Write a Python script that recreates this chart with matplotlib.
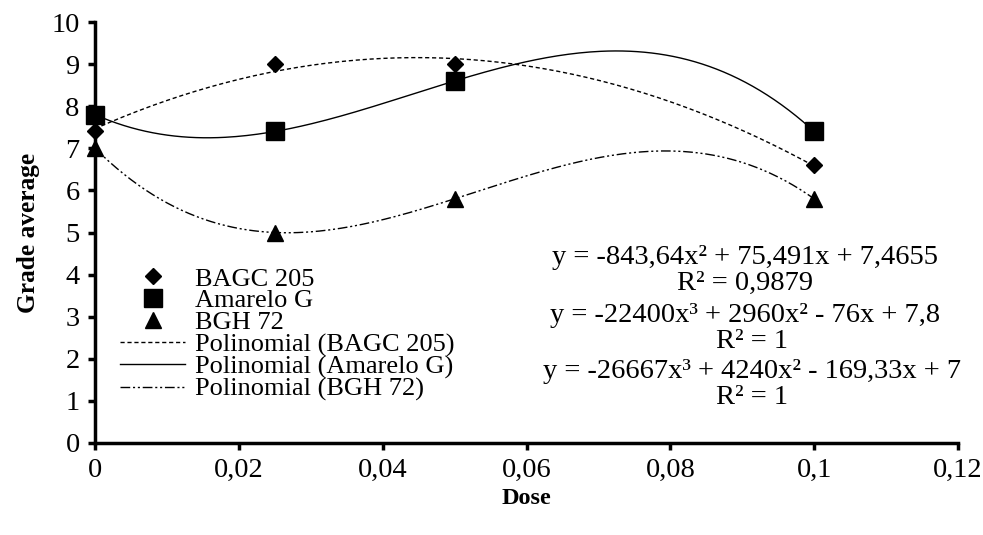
"""
Grade average vs dose for three cultivars, with polynomial trend lines.
"""

import numpy as np
import matplotlib
matplotlib.use('Agg')
import matplotlib.pyplot as plt

#########################################################################################

# DATA

dose = [0, 0.025, 0.05, 0.1]
bagc_205 = [7.4, 9.0, 9.0, 6.6]
amarelo_g = [7.8, 7.4, 8.6, 7.4]
bgh_72 = [7.0, 5.0, 5.8, 5.8]

series_names = ['BAGC 205', 'Amarelo G', 'BGH 72']
poly_degree = [2, 3, 3]

equations = [
    'y = -843,64x² + 75,491x + 7,4655',
    'R² = 0,9879',
    'y = -22400x³ + 2960x² - 76x + 7,8',
    'R² = 1',
    'y = -26667x³ + 4240x² - 169,33x + 7',
    'R² = 1',
]

x_ticks = [0, 0.02, 0.04, 0.06, 0.08, 0.1, 0.12]
x_tick_labels = ['0', '0,02', '0,04', '0,06', '0,08', '0,1', '0,12']
y_ticks = list(range(0, 11))

#########################################################################################

plt.rcParams['font.family'] = ['Liberation Serif', 'DejaVu Serif']

fig = plt.figure(figsize=(9.83, 5.35), dpi=100)
ax = fig.add_axes([95 / 983, 92 / 535, 863 / 983, 421 / 535])

markers = ['D', 's', '^']
marker_sizes = [8.5, 12.5, 12]
dashes = [(3, 2), (), (7, 2, 1.5, 2, 1.5, 2)]

x_fit = np.linspace(min(dose), max(dose), 200)
point_handles = []
line_handles = []
for ys, name, deg, ds in zip([bagc_205, amarelo_g, bgh_72], series_names,
                             poly_degree, dashes):
    coef = np.polyfit(dose, ys, deg)
    ln, = ax.plot(x_fit, np.polyval(coef, x_fit), color='black', lw=1.0,
                  label=f'Polinomial ({name})')
    if ds:
        ln.set_dashes(ds)
    line_handles.append(ln)

for ys, name, mk, ms in zip([bagc_205, amarelo_g, bgh_72], series_names,
                            markers, marker_sizes):
    pt, = ax.plot(dose, ys, linestyle='none', marker=mk, markersize=ms,
                  color='black', clip_on=False, zorder=5, label=name)
    point_handles.append(pt)

ax.set_xlim(0, 0.12)
ax.set_ylim(0, 10)
ax.set_xticks(x_ticks)
ax.set_xticklabels(x_tick_labels)
ax.set_yticks(y_ticks)

for side in ['top', 'right']:
    ax.spines[side].set_visible(False)
for side in ['left', 'bottom']:
    ax.spines[side].set_linewidth(2.5)
ax.tick_params(axis='both', direction='out', length=5, width=2.5,
               labelsize=20.5, pad=6)

ax.set_ylabel('Grade average', fontsize=18.3, fontweight='bold', labelpad=8)
fig.text(526 / 983, 1 - 498 / 535, 'Dose', ha='center', va='center',
         fontsize=17.5, fontweight='bold')

leg = ax.legend(handles=point_handles + line_handles, loc='upper left',
                bbox_to_anchor=(0.017, 0.443), frameon=False, fontsize=19,
                handlelength=2.46, handletextpad=0.38, labelspacing=-0.06,
                borderaxespad=0.0)

# Trendline equations
eq_y = [257, 283, 316, 341, 372, 398]
eq_x = [745, 745, 745, 752, 752, 752]
for txt, px, py in zip(equations, eq_x, eq_y):
    fig.text(px / 983, 1 - py / 535, txt, ha='center', va='center', fontsize=20.5)

fig.savefig('out.png', dpi=100)
